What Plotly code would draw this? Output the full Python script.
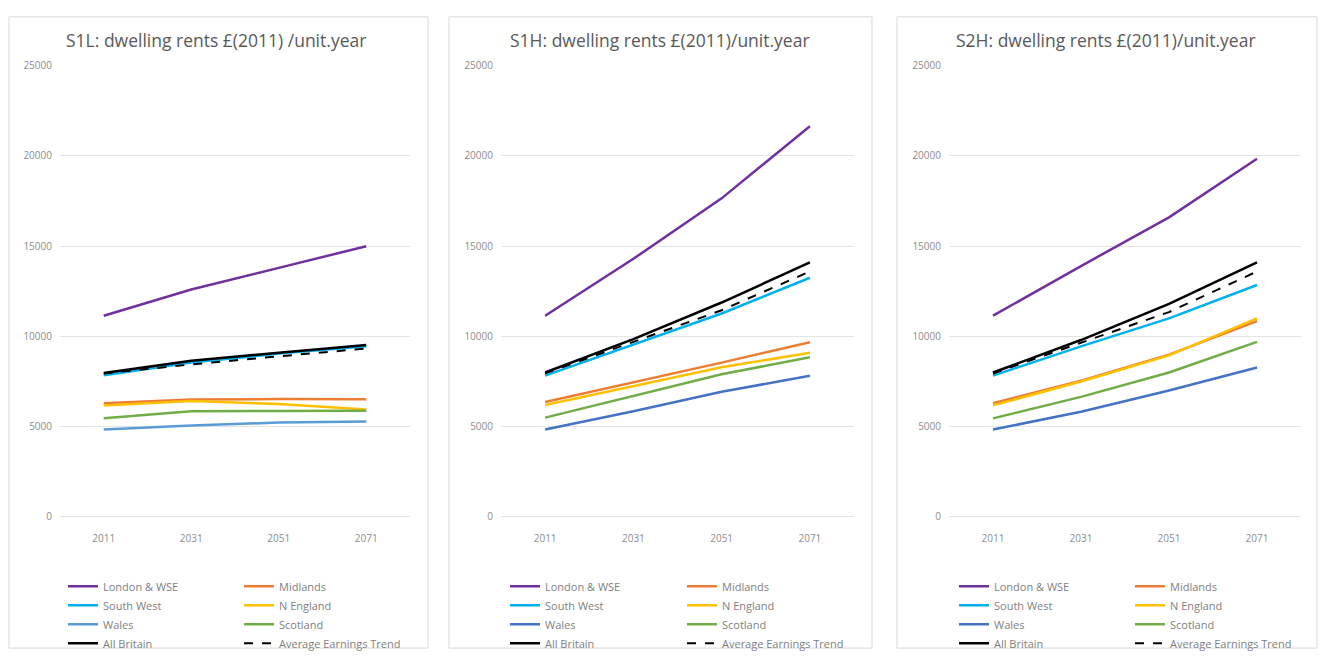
import plotly.graph_objects as go

W, H = 1320, 658

years = ["2011", "2031", "2051", "2071"]
series_names = ["London & WSE", "Midlands", "South West", "N England",
                "Wales", "Scotland", "All Britain", "Average Earnings Trend"]
titles = ["S1L: dwelling rents £(2011) /unit.year",
          "S1H: dwelling rents £(2011)/unit.year",
          "S2H: dwelling rents £(2011)/unit.year"]
y_ticks = [0, 5000, 10000, 15000, 20000, 25000]

# S1L
s1l_london = [11150, 12600, 13800, 15000]
s1l_midlands = [6300, 6500, 6530, 6520]
s1l_southwest = [7850, 8550, 9050, 9450]
s1l_nengland = [6180, 6420, 6250, 5950]
s1l_wales = [4840, 5060, 5230, 5290]
s1l_scotland = [5470, 5850, 5870, 5880]
s1l_allbritain = [7980, 8650, 9100, 9530]
s1l_earnings = [7950, 8450, 8900, 9330]

# S1H
s1h_london = [11150, 14300, 17650, 21650]
s1h_midlands = [6370, 7450, 8550, 9680]
s1h_southwest = [7830, 9550, 11270, 13250]
s1h_nengland = [6200, 7250, 8290, 9100]
s1h_wales = [4840, 5850, 6930, 7820]
s1h_scotland = [5500, 6700, 7900, 8850]
s1h_allbritain = [8000, 9850, 11880, 14100]
s1h_earnings = [7950, 9700, 11450, 13600]

# S2H
s2h_london = [11150, 13900, 16600, 19850]
s2h_midlands = [6300, 7550, 8990, 10850]
s2h_southwest = [7830, 9450, 11000, 12850]
s2h_nengland = [6180, 7500, 8950, 11000]
s2h_wales = [4840, 5830, 7000, 8280]
s2h_scotland = [5460, 6650, 8000, 9700]
s2h_allbritain = [8000, 9800, 11800, 14100]
s2h_earnings = [7950, 9650, 11350, 13600]

panels = [
    [s1l_london, s1l_midlands, s1l_southwest, s1l_nengland, s1l_wales, s1l_scotland, s1l_allbritain, s1l_earnings],
    [s1h_london, s1h_midlands, s1h_southwest, s1h_nengland, s1h_wales, s1h_scotland, s1h_allbritain, s1h_earnings],
    [s2h_london, s2h_midlands, s2h_southwest, s2h_nengland, s2h_wales, s2h_scotland, s2h_allbritain, s2h_earnings],
]

colors = ["#7030A0", "#ED7D31", "#00B0F0", "#FFC000", "#4472C4", "#70AD47", "#000000", "#000000"]
wales_p1 = "#5B9BD5"

FONT = "Open Sans, Liberation Sans, sans-serif"

def px(x):
    return x / W

def py(y):
    return 1 - y / H

# pixel geometry
xdom = [(60, 410), (501, 854), (949, 1301)]
ytop, ybot = 60, 521
borders = [(9, 10, 428, 655), (449, 10, 872, 655), (897, 10, 1317, 655)]
title_cx = [216, 660, 1106]
leg_left = [(63, 239), (505, 682), (954, 1130)]

fig = go.Figure()

for p in range(3):
    ax = "" if p == 0 else str(p + 1)
    for i, name in enumerate(series_names):
        col = colors[i]
        if p == 0 and i == 4:
            col = wales_p1
        k = 2 * p + (i % 2)
        legend_id = "legend" + ("" if k == 0 else str(k + 1))
        fig.add_trace(go.Scatter(
            x=years, y=panels[p][i], name=name, mode="lines",
            line=dict(color=col, width=2.5 if i < 7 else 2,
                      dash="dash" if i == 7 else "solid"),
            xaxis="x" + ax, yaxis="y" + ax, legend=legend_id,
        ))

layout = dict(
    width=W, height=H,
    margin=dict(l=0, r=0, t=0, b=0),
    paper_bgcolor="white", plot_bgcolor="white",
    font=dict(family=FONT, color="#7f7f7f"),
    shapes=[], annotations=[],
)

for p in range(3):
    ax = "" if p == 0 else str(p + 1)
    layout["xaxis" + ax] = dict(
        domain=[px(xdom[p][0]), px(xdom[p][1])],
        anchor="y" + ax, type="category", range=[-0.5, 3.5],
        showgrid=False, showline=False, zeroline=False, ticks="",
        tickfont=dict(size=10, color="#8c8c8c"),
        ticklabelstandoff=14,
    )
    layout["yaxis" + ax] = dict(
        domain=[py(ybot), py(ytop)],
        anchor="x" + ax, range=[0, 25000], tickvals=y_ticks, tickformat="d",
        showgrid=True, gridcolor="#e4e4e4", gridwidth=1,
        zeroline=True, zerolinecolor="#e4e4e4", zerolinewidth=1,
        showline=False, ticks="",
        tickfont=dict(size=10, color="#8c8c8c"),
        ticklabelstandoff=7,
    )
    x0, y0, x1, y1 = borders[p]
    layout["shapes"].append(dict(
        type="rect", xref="paper", yref="paper",
        x0=px(x0), x1=px(x1), y0=py(y1), y1=py(y0),
        line=dict(color="#d9d9d9", width=1), layer="below",
    ))
    layout["annotations"].append(dict(
        text=titles[p], xref="paper", yref="paper",
        x=px(title_cx[p]), y=py(34), xanchor="center", yanchor="middle",
        showarrow=False, font=dict(size=17.5, color="#595959", family=FONT),
    ))
    for c in range(2):
        idx = 2 * p + c
        lid = "legend" + ("" if idx == 0 else str(idx + 1))
        layout[lid] = dict(
            x=px(leg_left[p][c]), y=py(577), xanchor="left", yanchor="top",
            xref="paper", yref="paper", orientation="v",
            bgcolor="rgba(0,0,0,0)", borderwidth=0, tracegroupgap=0,
            font=dict(size=11, color="#7f7f7f", family=FONT),
            itemwidth=30,
        )

fig.update_layout(**layout)
fig.write_html("out.html", post_script="document.body.style.margin='0';document.body.style.overflow='hidden';")
